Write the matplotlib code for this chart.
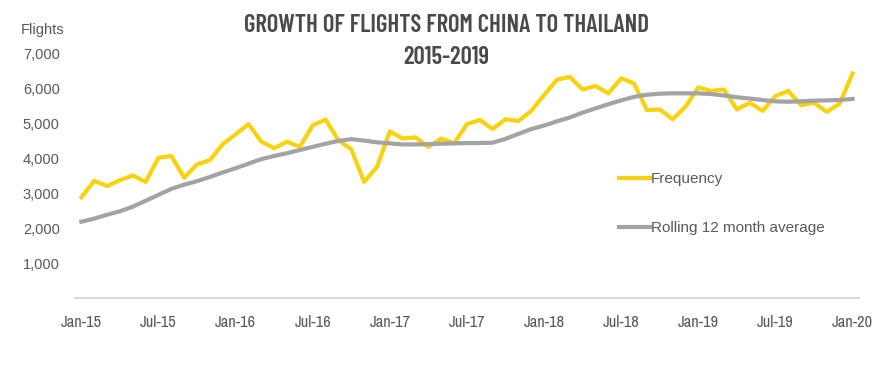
import matplotlib.pyplot as plt
from matplotlib import font_manager

# monthly flights, Jan-15 .. Jan-20
months = list(range(61))
frequency = [2880, 3350, 3200, 3370, 3500, 3320, 4010, 4060, 3440, 3820, 3940, 4400,
             4680, 4970, 4470, 4280, 4470, 4320, 4940, 5100, 4510, 4250, 3320, 3750,
             4760, 4560, 4590, 4320, 4560, 4420, 4970, 5090, 4830, 5110, 5060, 5350,
             5800, 6240, 6320, 5960, 6060, 5850, 6280, 6130, 5370, 5390, 5110, 5470,
             6020, 5920, 5960, 5390, 5580, 5350, 5770, 5920, 5510, 5580, 5320, 5560,
             6420]
rolling = [2180, 2270, 2380, 2480, 2610, 2780, 2950, 3120, 3240, 3340, 3460, 3590,
           3710, 3840, 3970, 4060, 4140, 4230, 4320, 4410, 4490, 4540, 4500, 4450,
           4420, 4390, 4390, 4400, 4410, 4420, 4430, 4430, 4440, 4550, 4690, 4830,
           4930, 5050, 5160, 5300, 5420, 5540, 5650, 5750, 5810, 5840, 5850, 5850,
           5850, 5830, 5790, 5740, 5700, 5660, 5620, 5610, 5620, 5640, 5650, 5660,
           5690]
tick_pos = [0, 6, 12, 18, 24, 30, 36, 42, 48, 54, 60]
tick_labels = ["Jan-15", "Jul-15", "Jan-16", "Jul-16", "Jan-17", "Jul-17",
               "Jan-18", "Jul-18", "Jan-19", "Jul-19", "Jan-20"]
y_ticks = [1000, 2000, 3000, 4000, 5000, 6000, 7000]

installed = {f.name for f in font_manager.fontManager.ttflist}

def pick(options):
    for name in options:
        if name in installed:
            return name
    return "DejaVu Sans"

title_font = pick(["Barlow Condensed", "Roboto Condensed", "Oswald", "Archivo Narrow"])
tick_font = pick(["Archivo Narrow", "Roboto Condensed", "Barlow Condensed"])

plt.rcParams["font.family"] = ["Liberation Sans", "DejaVu Sans"]

fig = plt.figure(figsize=(8.85, 3.86), dpi=100)
ax = fig.add_axes([0.0847, 0.228, 0.8859, 0.725])

ax.plot(months, frequency, color="#F8D20C", linewidth=3, label="Frequency")
ax.plot(months, rolling, color="#A3A3A3", linewidth=3, label="Rolling 12 month average")

ax.set_xlim(-0.5, 60.5)
ax.set_ylim(0, 8000)
ax.set_xticks(tick_pos)
ax.set_xticklabels(tick_labels, fontsize=11.8, color="#595959", fontfamily=tick_font,
                   fontstretch="condensed")
ax.set_yticks(y_ticks)
ax.set_yticklabels([f"{v:,}" for v in y_ticks], fontsize=10.5, color="#595959")
ax.tick_params(length=0)
ax.tick_params(axis="x", pad=12)
ax.tick_params(axis="y", pad=11)

for s in ["top", "right", "left"]:
    ax.spines[s].set_visible(False)
ax.spines["bottom"].set_color("#D9D9D9")
ax.spines["bottom"].set_linewidth(1.5)

fig.text(43 / 885, 1 - 30 / 386, "Flights", ha="center", va="center", fontsize=10.5, color="#595959")
fig.text(446 / 885, 1 - 25 / 386, "GROWTH OF FLIGHTS FROM CHINA TO THAILAND",
         ha="center", va="center", fontweight="semibold", fontsize=17.8, color="#4A4A4A",
         fontfamily=title_font)
fig.text(446 / 885, 1 - 57 / 386, "2015-2019",
         ha="center", va="center", fontweight="semibold", fontsize=17.8, color="#4A4A4A",
         fontfamily=title_font)

ax.legend(loc="upper left", bbox_to_anchor=(619 / 885, 1 - 172 / 386), bbox_transform=fig.transFigure,
          frameon=False, fontsize=11, handlelength=2.0, handletextpad=0.1, labelspacing=2.3,
          labelcolor="#595959", borderaxespad=0, borderpad=0)

fig.savefig("out.png", dpi=100)
